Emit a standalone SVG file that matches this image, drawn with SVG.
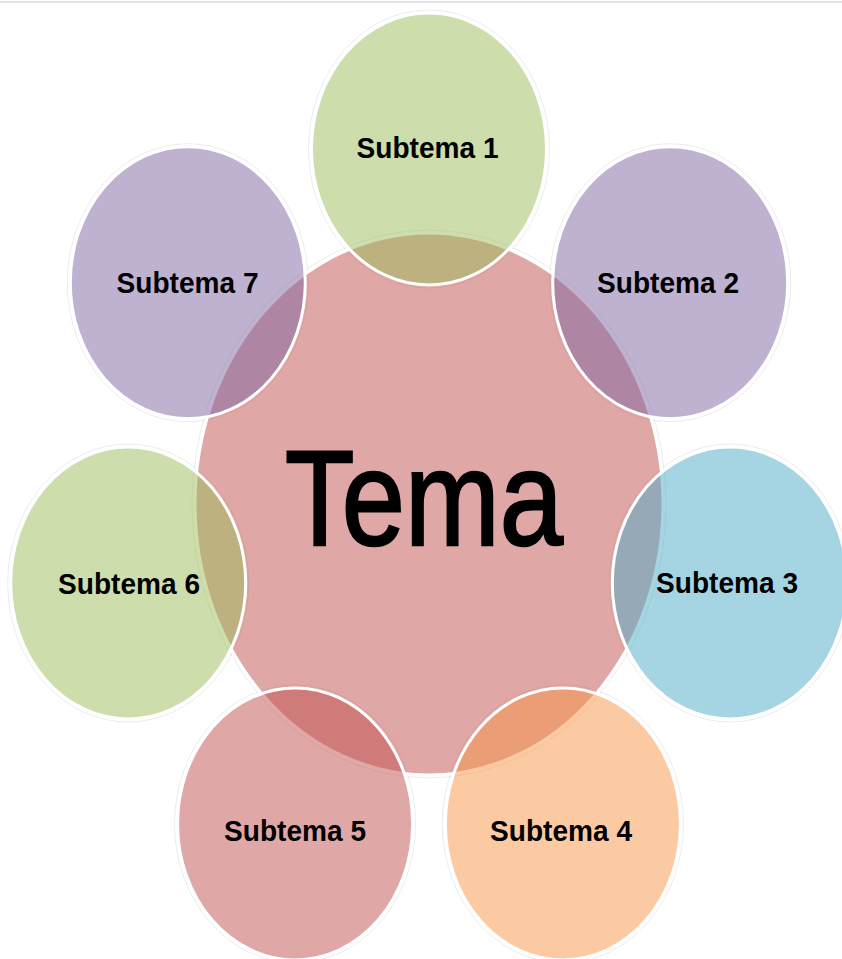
<svg xmlns="http://www.w3.org/2000/svg" width="842" height="959" viewBox="0 0 842 959">
<style>
.halo{fill:none;stroke:#000;stroke-opacity:0.08;stroke-width:1}
.c{fill-opacity:0.5;stroke:#fff;stroke-width:3}
.lbl{font-family:"Liberation Sans",Arial,sans-serif;font-weight:bold;font-size:30px;fill:#000;text-anchor:middle}
.main{font-family:"Liberation Sans",Arial,sans-serif;font-size:135px;fill:#000;stroke:#000;stroke-width:2.5;text-anchor:middle}
</style>
<rect x="0" y="0" width="842" height="959" fill="#fff"/>
<line x1="0" y1="2" x2="842" y2="2" stroke="#d9d9d9" stroke-width="1.5"/>
<g id="halos">
<ellipse class="halo" cx="429" cy="504" rx="237" ry="274"/>
<ellipse class="halo" cx="429" cy="149" rx="120.5" ry="139"/>
<ellipse class="halo" cx="670.2" cy="282.7" rx="120.5" ry="139"/>
<ellipse class="halo" cx="729.8" cy="583" rx="120.5" ry="139"/>
<ellipse class="halo" cx="562.9" cy="823.9" rx="120.5" ry="139"/>
<ellipse class="halo" cx="295.1" cy="823.9" rx="120.5" ry="139"/>
<ellipse class="halo" cx="128.2" cy="583" rx="120.5" ry="139"/>
<ellipse class="halo" cx="187.8" cy="282.7" rx="120.5" ry="139"/>
</g>
<g id="tema">
<ellipse class="c" cx="429" cy="504" rx="234" ry="271" fill="#C0504D"/>
<text class="main" x="424" y="545" textLength="278" lengthAdjust="spacingAndGlyphs">Tema</text>
</g>
<g id="subtema1">
<ellipse class="c" cx="429" cy="149" rx="117.5" ry="136" fill="#9BBB59"/>
<text class="lbl" x="427.5" y="158" textLength="142" lengthAdjust="spacingAndGlyphs">Subtema 1</text>
</g>
<g id="subtema2">
<ellipse class="c" cx="670.2" cy="282.7" rx="117.5" ry="136" fill="#8064A2"/>
<text class="lbl" x="668" y="293" textLength="142" lengthAdjust="spacingAndGlyphs">Subtema 2</text>
</g>
<g id="subtema3">
<ellipse class="c" cx="729.8" cy="583" rx="117.5" ry="136" fill="#4BACC6"/>
<text class="lbl" x="727" y="593" textLength="142" lengthAdjust="spacingAndGlyphs">Subtema 3</text>
</g>
<g id="subtema4">
<ellipse class="c" cx="562.9" cy="823.9" rx="117.5" ry="136" fill="#F79646"/>
<text class="lbl" x="561" y="841" textLength="142" lengthAdjust="spacingAndGlyphs">Subtema 4</text>
</g>
<g id="subtema5">
<ellipse class="c" cx="295.1" cy="823.9" rx="117.5" ry="136" fill="#C0504D"/>
<text class="lbl" x="295" y="841" textLength="142" lengthAdjust="spacingAndGlyphs">Subtema 5</text>
</g>
<g id="subtema6">
<ellipse class="c" cx="128.2" cy="583" rx="117.5" ry="136" fill="#9BBB59"/>
<text class="lbl" x="129" y="594" textLength="142" lengthAdjust="spacingAndGlyphs">Subtema 6</text>
</g>
<g id="subtema7">
<ellipse class="c" cx="187.8" cy="282.7" rx="117.5" ry="136" fill="#8064A2"/>
<text class="lbl" x="187.5" y="293" textLength="142" lengthAdjust="spacingAndGlyphs">Subtema 7</text>
</g>
<g id="connectors"></g>
</svg>
